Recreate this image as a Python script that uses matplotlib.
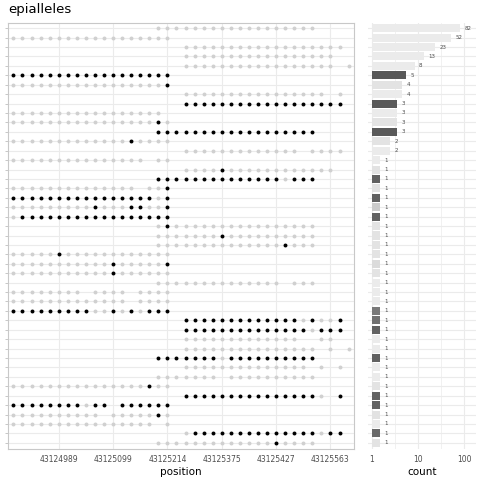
import numpy as np
import matplotlib
matplotlib.use("Agg")
import matplotlib.pyplot as plt
from matplotlib.ticker import FixedLocator, NullFormatter

# epiallele patterns, one per row, top to bottom, as run-length strings
# "." = no CpG read, "o" = unmethylated, "x" = methylated
patterns = [
    "16. 18o 4.", "18o 20.", "19. 18o 1.", "19. 17o 2.", "19. 17o 1. 1o",
    "18x 20.", "17o 1x 20.", "19. 16o 1. 1o 1.", "19. 18x 1.", "17o 21.",
    "16o 1x 1o 20.", "16. 18x 4.", "13o 1x 4o 20.", "19. 13o 1. 4o 1.",
    "15o 1. 2o 20.", "19. 4o 1x 12o 2.", "16. 14x 1o 3x 4.", "14o 1. 2o 1x 20.",
    "16x 1o 1x 20.", "9o 1x 3o 2x 2o 1x 20.", "1o 17x 20.", "16. 1o 1x 16o 4.",
    "16. 7o 1x 10o 4.", "16. 14o 1x 3o 4.", "5o 1x 12o 20.", "11o 1x 5o 1x 20.",
    "11o 1x 6o 20.", "16. 14o 1. 3o 4.", "8o 1. 4o 1. 4o 20.", "13o 1. 4o 20.",
    "9x 2o 1x 1o 1x 1o 3x 20.", "19. 13x 1o 1x 2o 1x 1.", "19. 14x 1o 3x 1.",
    "19. 13o 2. 2o 2.", "19. 15o 1. 1o 1. 1o", "16. 7x 1o 10x 4.",
    "19. 14o 1. 1o 1. 1o 1.", "16. 7o 1. 10o 4.", "15o 1x 2o 20.",
    "19. 15x 1o 1. 1x 1.", "8x 1o 2x 1. 6x 20.", "10o 1. 5o 1x 1o 20.",
    "16o 1. 1o 20.", "19. 1o 14x 1o 2x 1.", "16. 13o 1x 4o 4.",
]
counts = [82, 52, 23, 13, 8, 5, 4, 4, 3, 3, 3, 3, 2, 2] + [1] * 31

tick_idx = [5, 11, 17, 23, 29, 35]
tick_labels = ["43124989", "43125099", "43125214", "43125375", "43125427", "43125563"]


def expand(spec):
    out = ""
    for tok in spec.split():
        out += tok[-1] * int(tok[:-1])
    return out


rows = [expand(p) for p in patterns]
n = len(rows)
ncol = len(rows[0])

fig = plt.figure(figsize=(4.8, 4.8), dpi=100)
ax = fig.add_axes([8 / 480, 31.5 / 480, 346 / 480, 426 / 480])
ax2 = fig.add_axes([368 / 480, 31.5 / 480, 108 / 480, 426 / 480])

grid_c = "#ebebeb"
txt_c = "#4d4d4d"

# dot matrix
for r, s in enumerate(rows):
    xo = [i for i, c in enumerate(s) if c == "o"]
    xx = [i for i, c in enumerate(s) if c == "x"]
    ax.scatter(xo, [r] * len(xo), s=8, color="#d0d0d0", lw=0, zorder=3)
    ax.scatter(xx, [r] * len(xx), s=8, color="black", lw=0, zorder=3)

ax.set_xlim(-0.6, ncol - 1 + 0.6)
ax.set_ylim(n - 1 + 0.6, -0.6)
ax.set_yticks(range(n))
ax.set_yticklabels([])
ax.set_xticks(tick_idx)
ax.set_xticklabels(tick_labels, fontsize=5.5, color=txt_c)
ax.tick_params(axis="x", length=0, pad=5)
ax.tick_params(axis="y", length=2.5, width=0.5, color="#b0b0b0")
ax.grid(True, color=grid_c, lw=0.8, zorder=0)
ax.set_axisbelow(True)
for sp in ax.spines.values():
    sp.set_color("#c8c8c8")
    sp.set_linewidth(0.8)
ax.set_xlabel("position", fontsize=7.5, labelpad=2)

# counts panel, shaded by methylated fraction
frac = np.array([s.count("x") / (s.count("x") + s.count("o")) for s in rows])
light, dark = 235, 89
shade = (light - frac * (light - dark)) / 255
colors = [(g, g, g) for g in shade]
ends = np.array(counts) + 0.5
ax2.barh(range(n), ends - 1, left=1, height=0.85, color=colors, zorder=2)
for r, c in enumerate(counts):
    ax2.annotate(str(c), (c + 0.5, r), xytext=(3, 0), textcoords="offset points",
                 fontsize=4, color=txt_c, va="center", ha="left")

ax2.set_xscale("log")
ax2.set_xlim(0.82, 182)
ax2.set_ylim(n - 1 + 0.6, -0.6)
ax2.set_yticks(range(n))
ax2.set_yticklabels([])
ax2.xaxis.set_major_locator(FixedLocator([1, 10, 100]))
ax2.set_xticklabels(["1", "10", "100"], fontsize=5.5, color=txt_c)
ax2.xaxis.set_minor_locator(FixedLocator([10 ** 0.5, 10 ** 1.5]))
ax2.xaxis.set_minor_formatter(NullFormatter())
ax2.tick_params(axis="both", which="both", length=0)
ax2.tick_params(axis="x", pad=5)
ax2.grid(True, which="major", color=grid_c, lw=0.8, zorder=0)
ax2.grid(True, which="minor", axis="x", color=grid_c, lw=0.5, zorder=0)
ax2.set_axisbelow(True)
for sp in ax2.spines.values():
    sp.set_visible(False)
ax2.set_xlabel("count", fontsize=7.5, labelpad=2)

fig.text(8 / 480, 1 - 3 / 480, "epialleles", fontsize=9.5, va="top", ha="left")

fig.savefig("out.png", dpi=100)
